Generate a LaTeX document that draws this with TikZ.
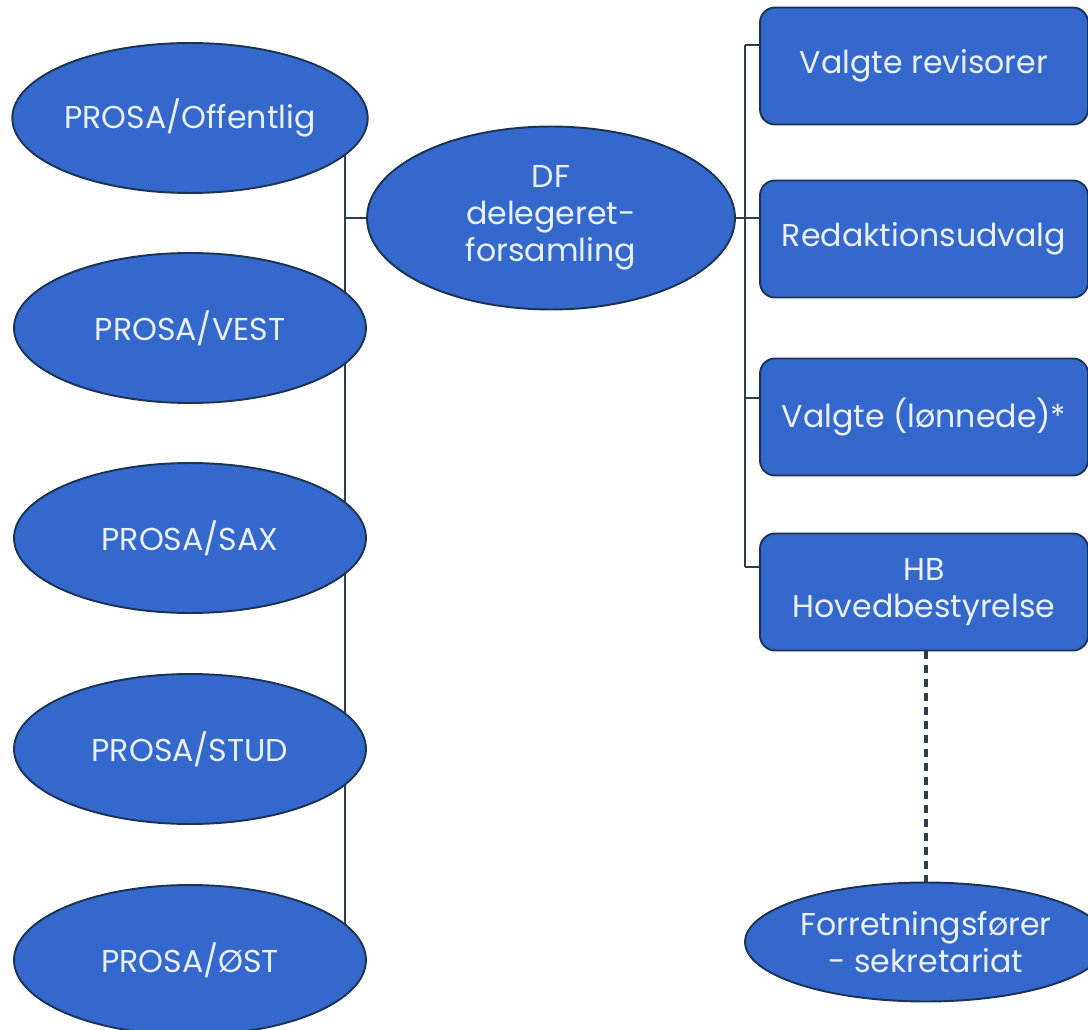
\documentclass[tikz,border=0pt]{standalone}
\usepackage{fontspec}
\setmainfont{Poppins}
\usetikzlibrary{shapes.geometric,backgrounds}

\definecolor{orgblue}{RGB}{52,104,204}
\definecolor{orgedge}{RGB}{28,52,84}
\definecolor{orgline}{RGB}{45,62,78}
\definecolor{orgtext}{RGB}{234,240,250}

\begin{document}
\begin{tikzpicture}[x=0.02cm,y=-0.02cm,
    every node/.style={font=\fontsize{18}{21}\selectfont,text=orgtext,align=center},
    kreds/.style={ellipse,draw=orgedge,fill=orgblue,line width=1.1pt,inner sep=0pt,
      minimum width=7.04cm,minimum height=3cm},
    organ/.style={rectangle,rounded corners=0.3cm,draw=orgedge,fill=orgblue,line width=1.1pt,
      inner sep=0pt,minimum width=6.56cm,minimum height=2.34cm},
    link/.style={draw=orgline,line width=1.2pt}]

    \clip (0,0) rectangle (1088,1030);

    % lokale kredse
    \node[kreds] (off) at (190,118) {PROSA/Offentlig};
    \node[kreds] (vest) at (190,328) {PROSA/VEST};
    \node[kreds] (sax) at (190,538) {PROSA/SAX};
    \node[kreds] (stud) at (190,749) {PROSA/STUD};
    \node[kreds] (ost) at (190,960) {PROSA/ØST};

    % delegeretforsamling
    \node[kreds,minimum width=7.36cm,minimum height=3.66cm] (df) at (551,218)
        {DF\\delegeret-\\forsamling};

    % valgte organer
    \node[organ] (rev) at (924,66) {Valgte revisorer};
    \node[organ] (red) at (924,239) {Redaktionsudvalg};
    \node[organ] (lon) at (924,417) {Valgte (lønnede)*};
    \node[organ] (hb) at (924,592) {HB\\Hovedbestyrelse};

    \node[kreds,minimum width=7.24cm,minimum height=2.38cm] (sek) at (926,942)
        {Forretningsfører\\- sekretariat};

    \coordinate (l1) at (345,118);
    \coordinate (l2) at (345,960);
    \coordinate (r1) at (745,45);
    \coordinate (r2) at (745,218);
    \coordinate (r3) at (745,398);
    \coordinate (r4) at (745,567);

    \begin{scope}[on background layer]
    \draw[link] (l1) -- (l2);
    \draw[link] (df.west) -- (df.west -| l1);
    \draw[link] (r1) -- (r4);
    \draw[link] (df.east) -- (df.east -| r1);
    \draw[link] (r1) -- (r1 -| rev.west);
    \draw[link] (r2) -- (r2 -| red.west);
    \draw[link] (r3) -- (r3 -| lon.west);
    \draw[link] (r4) -- (r4 -| hb.west);
    \draw[link,line width=2pt,dash pattern=on 0.16cm off 0.12cm] (hb.south -| sek.north) -- (sek.north);
    \end{scope}

\end{tikzpicture}
\end{document}
